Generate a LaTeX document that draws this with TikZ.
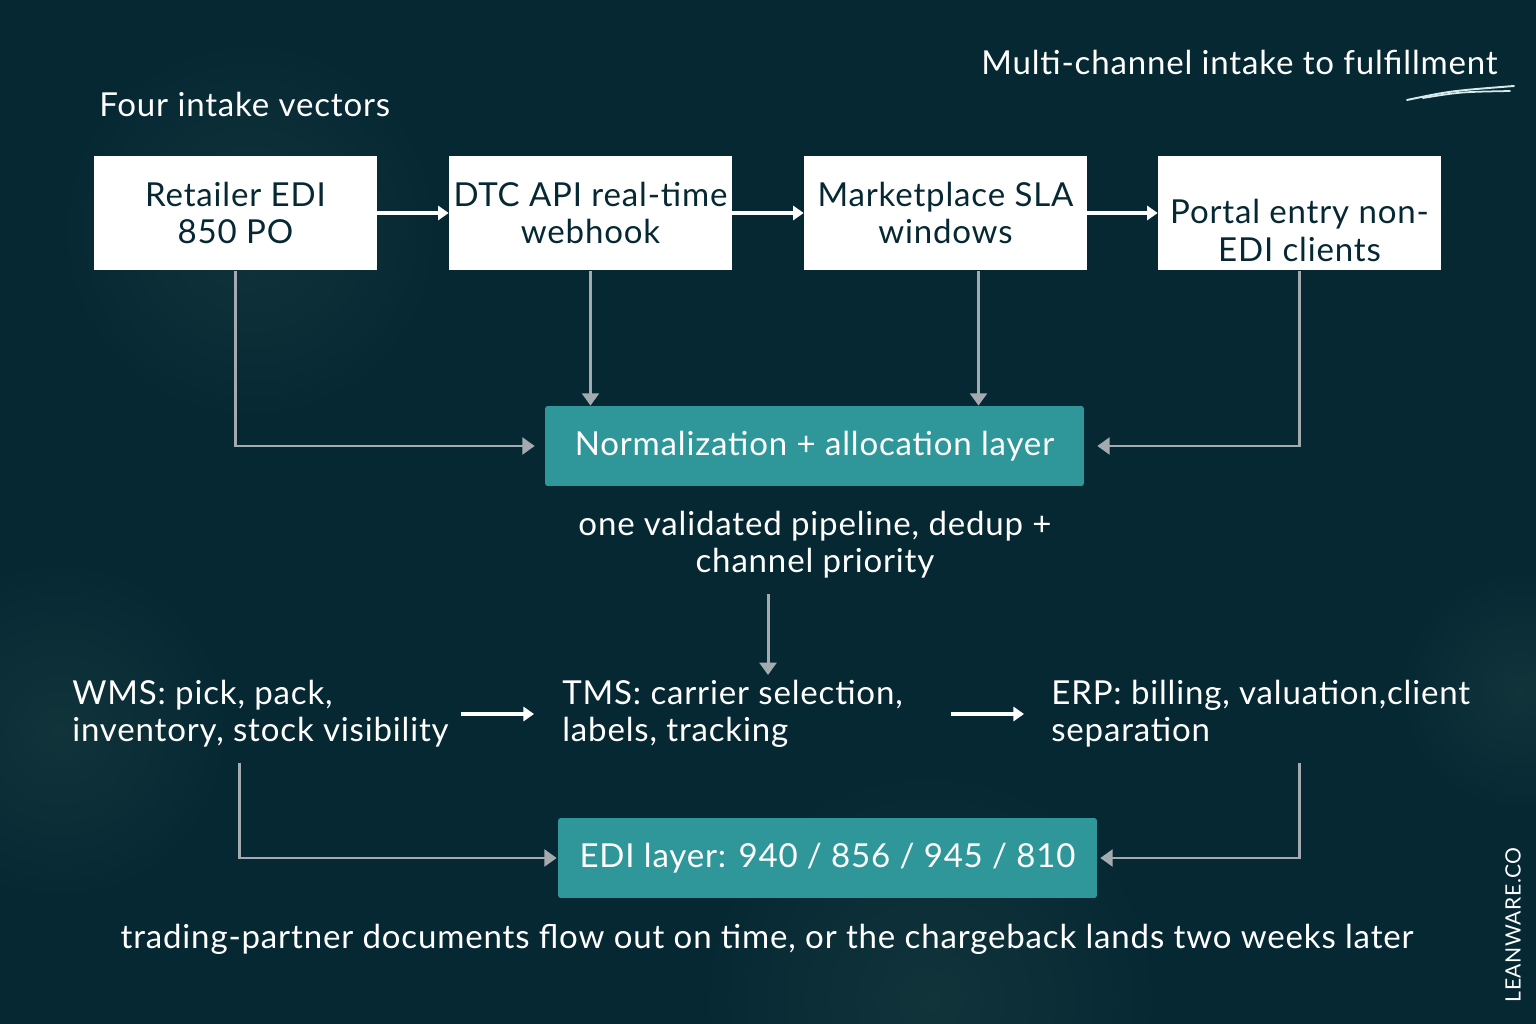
\documentclass[tikz,border=0pt]{standalone}
\usepackage{fontspec}
\setmainfont{Lato}[LetterSpace=2.5]
\usetikzlibrary{arrows.meta,positioning,calc}
\definecolor{Night}{HTML}{062833}
\definecolor{NightHaze}{HTML}{11343B}
\definecolor{Teal}{HTML}{2F9799}
\definecolor{Wire}{HTML}{A3ABB0}
\newcommand{\IntakeBox}[4]{%
  \node[intake] (#1) at (#2,#3) {#4};%
}

\begin{document}
\begin{tikzpicture}[x=0.02cm,y=-0.02cm,
  intake/.style={fill=white,text=Night,minimum width=5.66cm,minimum height=2.3cm,inner sep=0pt,align=center,font=\fontsize{18.8}{21.5}\selectfont},
  layer/.style={fill=Teal,rounded corners=1.5pt,text=white,minimum width=10.78cm,minimum height=1.6cm,font=\fontsize{18.8}{21.5}\selectfont},
  note/.style={text=white,inner sep=0pt,font=\fontsize{18.8}{21}\selectfont},
  flow/.style={white,line width=2.2pt,-{Triangle[length=6pt,width=8pt]}},
  feed/.style={Wire,line width=1.7pt,-{Triangle[length=7pt,width=9.5pt]}}]
\useasboundingbox (0,0) rectangle (1536,1024);
\fill[Night] (0,0) rectangle (1536,1024);
\begin{scope}
\clip (0,0) rectangle (1536,1024);
\foreach \cx/\cy/\r in {250/230/190,60/730/170,930/1000/230,1520/690/120}
  \shade[inner color=NightHaze,outer color=Night] (\cx,\cy) circle (\r);
\end{scope}
% headings
\node[note,anchor=west] (vectors) at (99,104) {Four intake vectors};
\node[note,anchor=east] (heading) at (1498,62) {Multi-channel intake to fulfillment};
\draw[white!80!Teal,line width=1.1pt,line cap=round] (1407,100) .. controls (1450,91) .. (1514,86);
\draw[white!80!Teal,line width=1pt,line cap=round] (1423,98) .. controls (1460,92) .. (1510,91);
% intake vectors
\IntakeBox{retailer}{235.5}{213}{Retailer EDI\\850 PO}
\IntakeBox{dtc}{590.5}{213}{DTC API real-time\\webhook}
\IntakeBox{market}{945.5}{213}{Marketplace SLA\\windows}
\IntakeBox{portal}{1299.5}{213}{\rule{0pt}{34pt}Portal entry non-\\EDI clients}
\foreach \a/\b in {retailer/dtc,dtc/market,market/portal}
  \draw[flow] (\a) -- (\b);
% normalization
\node[layer] (norm) at (814.5,446) {Normalization + allocation layer};
\draw[feed,shorten >=0.2cm] (retailer.south) |- (norm.west);
\draw[feed] (dtc.south) -- (dtc.south |- norm.north);
\draw[feed] ([xshift=0.66cm]market.south) -- ([xshift=0.66cm]market.south |- norm.north);
\draw[feed,shorten >=0.26cm] (portal.south) |- (norm.east);
\node[note,align=center] (pipeline) at (815,545) {one validated pipeline, dedup +\\channel priority};
% systems
\node[note,anchor=west,align=left] (wms) at (72,714) {WMS: pick, pack,\\inventory, stock visibility};
\node[note,anchor=west,align=left] (tms) at (562,714) {TMS: carrier selection,\\labels, tracking};
\node[note,anchor=west,align=left] (erp) at (1051,714) {ERP: billing, valuation,client\\separation};
\draw[feed] ([xshift=-0.94cm,yshift=-0.3cm]pipeline.south) -- ([xshift=-0.94cm,yshift=0.1cm]pipeline.south |- tms.north);
\draw[flow,shorten >=0.56cm] ([xshift=7.78cm]wms.west) -- (tms.west);
\draw[flow,shorten >=0.54cm] ([xshift=7.78cm]tms.west) -- (erp.west);
% edi
\node[layer] (edi) at (827.5,858) {EDI layer: 940 / 856 / 945 / 810};
\draw[feed,shorten >=0.02cm] ([xshift=3.36cm,yshift=-0.3cm]wms.south west) |- (edi.west);
\draw[feed,shorten >=0.06cm] ([xshift=4.98cm,yshift=-0.3cm]erp.south west) |- (edi.east);
\node[note] (consequence) at (767,939) {trading-partner documents flow out on time, or the chargeback lands two weeks later};
\node[note,rotate=90,font=\fontsize{12}{14}\selectfont] (brand) at (1513,925) {LEANWARE.CO};
\end{tikzpicture}
\end{document}
